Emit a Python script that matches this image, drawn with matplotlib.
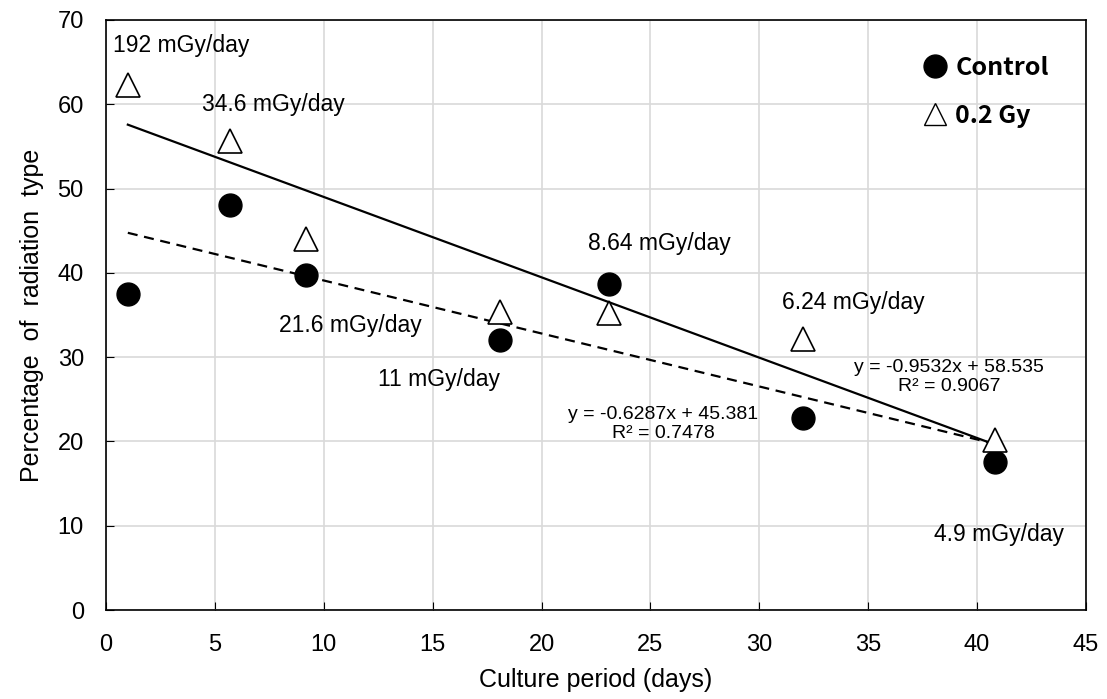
import numpy as np
import matplotlib
matplotlib.use("Agg")
import matplotlib.pyplot as plt
from matplotlib.lines import Line2D

# data
days = [1.0, 5.7, 9.2, 18.1, 23.1, 32.0, 40.8]
control = [37.5, 48.1, 39.7, 32.0, 38.7, 22.8, 17.6]
gy02 = [62.3, 55.6, 44.0, 35.4, 35.2, 32.2, 20.2]

fit_control = (-0.6287, 45.381, 0.7478)
fit_gy02 = (-0.9532, 58.535, 0.9067)

dose_labels = ["192 mGy/day", "34.6 mGy/day", "21.6 mGy/day", "11 mGy/day",
               "8.64 mGy/day", "6.24 mGy/day", "4.9 mGy/day"]
dose_xy = [(0.3, 67.0), (7.7, 60.0), (11.2, 33.8), (15.3, 27.3),
           (25.4, 43.5), (34.3, 36.5), (41.0, 9.0)]
dose_ha = ["left", "center", "center", "center", "center", "center", "center"]

plt.rcParams["font.family"] = ["Liberation Sans", "DejaVu Sans"]

fig = plt.figure(figsize=(11.07, 6.99), dpi=100)
ax = fig.add_axes([0.0958, 0.1273, 0.8852, 0.8441])

x_fit = np.array([days[0], days[-1]])
ax.plot(x_fit, fit_gy02[0] * x_fit + fit_gy02[1], color="black", lw=1.6, zorder=2)
ax.plot(x_fit, fit_control[0] * x_fit + fit_control[1], color="black", lw=1.6,
        ls=(0, (4.5, 3)), zorder=2)

ax.plot(days, control, "o", color="black", markersize=16.5, ls="none", zorder=3)
ax.plot(days, gy02, "^", markerfacecolor="white", markeredgecolor="black",
        markeredgewidth=1.2, markersize=17, ls="none", zorder=3)

for lab, (tx, ty), ha in zip(dose_labels, dose_xy, dose_ha):
    ax.text(tx, ty, lab, fontsize=16.5, ha=ha, va="center")

ax.text(38.7, 27.7, f"y = {fit_gy02[0]}x + {fit_gy02[1]}\nR² = {fit_gy02[2]}",
        fontsize=14, ha="center", va="center", linespacing=1.15)
ax.text(25.6, 22.1, f"y = {fit_control[0]}x + {fit_control[1]}\nR² = {fit_control[2]}",
        fontsize=14, ha="center", va="center", linespacing=1.15)

ax.set_xlim(0, 45)
ax.set_ylim(0, 70)
ax.set_xticks(np.arange(0, 46, 5))
ax.set_yticks(np.arange(0, 71, 10))
ax.grid(True, color="#d9d9d9", lw=1.2)
ax.set_axisbelow(True)
ax.tick_params(direction="in", length=6, labelsize=17, color="black")
ax.tick_params(axis="x", pad=17)
ax.tick_params(axis="y", pad=16)
for sp in ax.spines.values():
    sp.set_color("black")
    sp.set_linewidth(1.2)

ax.set_xlabel("Culture period (days)", fontsize=18, labelpad=9)
ax.set_ylabel("Percentage  of  radiation  type", fontsize=18, labelpad=10)

handles = [
    Line2D([], [], marker="o", color="black", ls="none", markersize=16.5),
    Line2D([], [], marker="^", markerfacecolor="white", markeredgecolor="black",
           markeredgewidth=1.0, ls="none", markersize=16),
]
leg = ax.legend(handles, ["Control", "0.2 Gy"], loc="upper right",
                bbox_to_anchor=(0.985, 0.977), frameon=False,
                prop={"family": ["Noto Sans CJK JP", "DejaVu Sans"], "weight": "bold", "size": 18},
                handletextpad=0.3, labelspacing=0.95, handlelength=1.0)

fig.savefig("out.png", dpi=100, facecolor="white")
